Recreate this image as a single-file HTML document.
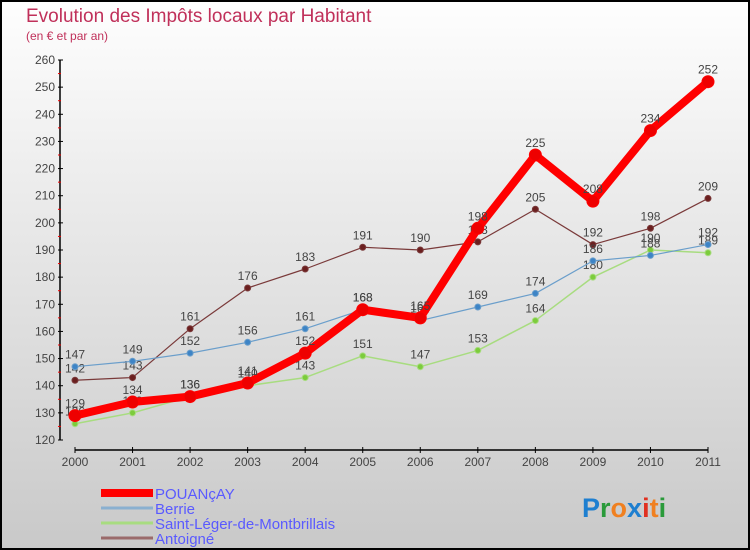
<!DOCTYPE html>
<html><head><meta charset="utf-8"><style>
body{margin:0;}
#wrap{width:750px;height:550px;position:relative;box-sizing:border-box;border:2px solid #000;background:linear-gradient(#fefefe,#c9c9c9);font-family:"Liberation Sans",sans-serif;overflow:hidden}
svg{position:absolute;left:-2px;top:-2px}
</style></head><body>
<div id="wrap">
<svg id="c" width="750" height="550">
<text x="26" y="22" font-size="19" fill="#c0305a">Evolution des Impôts locaux par Habitant</text>
<text x="26" y="40" font-size="12" fill="#c0305a">(en € et par an)</text>
</svg>
</div>
<script>
const years=["2000","2001","2002","2003","2004","2005","2006","2007","2008","2009","2010","2011"];
const pouancay=[129,134,136,141,152,168,165,198,225,208,234,252];
const berrie=[147,149,152,156,161,168,164,169,174,186,188,192];
const saintLeger=[126,130,136,140,143,151,147,153,164,180,190,189];
const antoigne=[142,143,161,176,183,191,190,193,205,192,198,209];
const yTicks=[120,130,140,150,160,170,180,190,200,210,220,230,240,250,260];
const svg=document.getElementById('c');const NS='http://www.w3.org/2000/svg';
const x=i=>75+i*(708-75)/11;
const y=v=>440-(v-120)*(380/140);
function mk(t,a,p){const e=document.createElementNS(NS,t);for(const k in a)e.setAttribute(k,a[k]);(p||svg).appendChild(e);return e;}
// axes
let ya=mk('line',{x1:60,y1:60,x2:60,y2:440,stroke:'#000','stroke-width':1.5});


let xa=mk('line',{x1:75,y1:450,x2:708,y2:450,stroke:'#000','stroke-width':1.5});


yTicks.forEach((v,i)=>{
 mk('line',{x1:58,y1:y(v),x2:63,y2:y(v),stroke:'#000'});
 if(i<yTicks.length-1)mk('line',{x1:58,y1:y(v+5),x2:61,y2:y(v+5),stroke:'#e00'});
 const t=mk('text',{x:55,y:y(v)+4,'font-size':12,fill:'#444','text-anchor':'end'});t.textContent=v;
 
 
});
years.forEach((yr,i)=>{
 mk('line',{x1:x(i),y1:447,x2:x(i),y2:453,stroke:'#000'});
 const t=mk('text',{x:x(i),y:466,'font-size':12,fill:'#444','text-anchor':'middle'});t.textContent=yr;
 
 
});
function series(data,name,col,w,r,dot,lab){
 const g=mk('g',{});
 
 
 const pl=mk('polyline',{points:data.map((v,i)=>x(i)+','+y(v)).join(' '),fill:'none',stroke:col,'stroke-width':w,'stroke-linejoin':'round'},g);
 
 
 data.forEach((v,i)=>{
  const c=mk('circle',{cx:x(i),cy:y(v),r:r,fill:dot,stroke:col,'stroke-width':1},g);
  
  
  const t=mk('text',{x:x(i),y:y(v)-8,'font-size':12,fill:'#444','text-anchor':'middle'},g);t.textContent=v;
  
  
 });
}
series(antoigne,'antoigne','#7a3a3a',1.2,3,'#6b1f1f');
series(saintLeger,'saint-leger','#a8dc80',1.5,3,'#7ccc3c');
series(berrie,'berrie','#6a9ecb',1.2,3,'#3d84c6');
series(pouancay,'pouancay','#f00',8,6,'#e00');
// legend
const leg=[['POUANçAY','#f00',8],['Berrie','#8ab0d0',3],['Saint-Léger-de-Montbrillais','#a8dc80',3],['Antoigné','#9a6a6a',3]];
leg.forEach((l,i)=>{
 const yy=493+i*15;
 const g=mk('g',{});
 
 
 mk('line',{x1:101,y1:yy,x2:153,y2:yy,stroke:l[1],'stroke-width':l[2]},g);
 const t=mk('text',{x:155,y:yy+6,'font-size':15,fill:'#5a5aff'},g);t.textContent=l[0];
});
const lg=mk('text',{x:582,y:517,'font-size':27,'font-weight':'bold'});


[['P','#1e7fd0'],['r','#2a9a3a'],['o','#f08020'],['x','#1e7fd0'],['i','#e03020'],['t','#f08020'],['i','#2a9a3a']].forEach(c=>{const s=mk('tspan',{fill:c[1]},lg);s.textContent=c[0];});
</script>
</body></html>
